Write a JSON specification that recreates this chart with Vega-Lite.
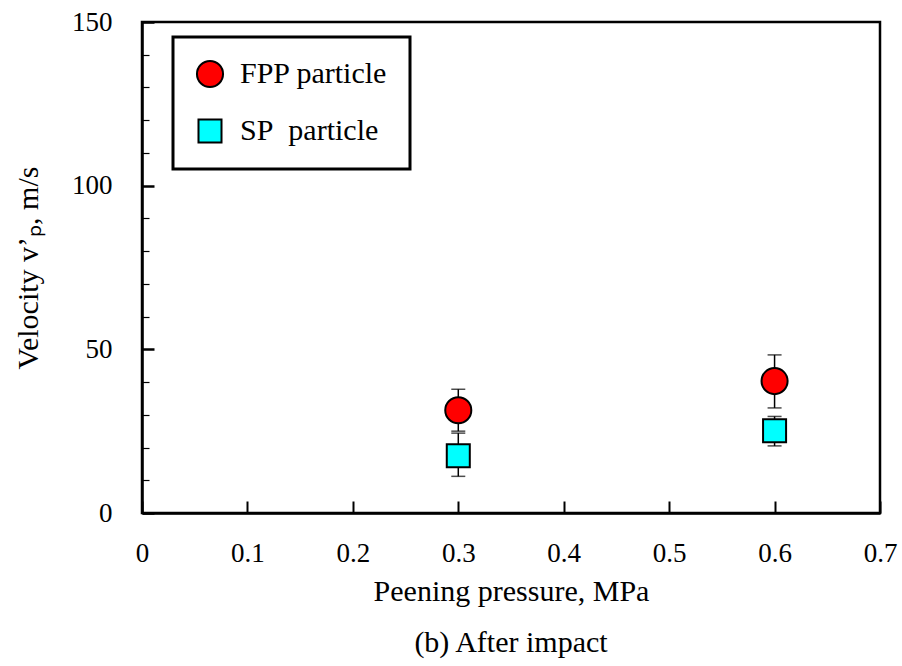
{
  "$schema": "https://vega.github.io/schema/vega-lite/v6.json",
  "width": 738,
  "height": 491,
  "autosize": "none",
  "padding": {"left": 142, "top": 22, "right": 22, "bottom": 153},
  "background": "white",
  "config": {
    "font": "Liberation Serif",
    "view": {"stroke": "black", "strokeWidth": 2.5},
    "axis": {
      "domainColor": "black", "domainWidth": 2.5,
      "tickColor": "black",
      "labelColor": "black", "titleColor": "black",
      "labelFont": "Liberation Serif", "titleFont": "Liberation Serif",
      "labelFontSize": 27, "titleFontSize": 30, "titleFontWeight": "normal",
      "grid": false
    },
    "legend": {
      "strokeColor": "black",
      "strokeWidth": 3,
      "fillColor": "white"
    }
  },
  "title": {
    "text": "(b) After impact",
    "orient": "bottom",
    "anchor": "middle",
    "font": "Liberation Serif",
    "fontSize": 30,
    "fontWeight": "normal",
    "color": "black",
    "offset": 22
  },
  "data": {
    "values": [
      {"pressure": 0.3, "particle": "FPP particle", "v": 31.4, "lo": 25.0, "hi": 37.8},
      {"pressure": 0.3, "particle": "SP particle", "v": 17.5, "lo": 11.2, "hi": 24.4},
      {"pressure": 0.6, "particle": "FPP particle", "v": 40.3, "lo": 32.1, "hi": 48.3},
      {"pressure": 0.6, "particle": "SP particle", "v": 25.1, "lo": 20.5, "hi": 29.5}
    ]
  },
  "layer": [
    {
      "mark": {"type": "rule", "color": "black", "strokeWidth": 1.5},
      "encoding": {
        "x": {"field": "pressure", "type": "quantitative",
          "scale": {"domain": [0, 0.7], "nice": false},
          "axis": {
            "title": "Peening pressure, MPa",
            "values": [0, 0.1, 0.2, 0.3, 0.4, 0.5, 0.6, 0.7],
            "labelExpr": "datum.value == 0 ? '0' : format(datum.value, '.1f')",
            "labelFlush": false,
            "labelOverlap": false,
            "tickSize": -12, "tickWidth": 2,
            "labelPadding": 39,
            "titlePadding": 10
          }},
        "y": {"field": "lo", "type": "quantitative",
          "scale": {"domain": [0, 150], "nice": false},
          "axis": {
            "title": "Velocity v’ₚ, m/s",
            "values": [0, 10, 20, 30, 40, 50, 60, 70, 80, 90, 100, 110, 120, 130, 140, 150],
            "labelExpr": "datum.value % 50 == 0 ? datum.label : ''",
            "labelFlush": false,
            "labelOverlap": false,
            "tickSize": {"condition": {"test": "datum.value % 50 == 0", "value": -12}, "value": -7},
            "tickWidth": {"condition": {"test": "datum.value % 50 == 0", "value": 2.5}, "value": 1.2},
            "labelPadding": 42,
            "titlePadding": 28
          }},
        "y2": {"field": "hi"}
      }
    },
    {
      "mark": {"type": "tick", "color": "black", "orient": "horizontal", "size": 14, "thickness": 1.5},
      "encoding": {
        "x": {"field": "pressure", "type": "quantitative", "axis": {
            "title": "Peening pressure, MPa",
            "values": [0, 0.1, 0.2, 0.3, 0.4, 0.5, 0.6, 0.7],
            "labelExpr": "datum.value == 0 ? '0' : format(datum.value, '.1f')",
            "labelFlush": false,
            "labelOverlap": false,
            "tickSize": -12, "tickWidth": 2,
            "labelPadding": 39,
            "titlePadding": 10
          }},
        "y": {"field": "lo", "type": "quantitative", "axis": {
            "title": "Velocity v’ₚ, m/s",
            "values": [0, 10, 20, 30, 40, 50, 60, 70, 80, 90, 100, 110, 120, 130, 140, 150],
            "labelExpr": "datum.value % 50 == 0 ? datum.label : ''",
            "labelFlush": false,
            "labelOverlap": false,
            "tickSize": {"condition": {"test": "datum.value % 50 == 0", "value": -12}, "value": -7},
            "tickWidth": {"condition": {"test": "datum.value % 50 == 0", "value": 2.5}, "value": 1.2},
            "labelPadding": 42,
            "titlePadding": 28
          }}
      }
    },
    {
      "mark": {"type": "tick", "color": "black", "orient": "horizontal", "size": 14, "thickness": 1.5},
      "encoding": {
        "x": {"field": "pressure", "type": "quantitative", "axis": {
            "title": "Peening pressure, MPa",
            "values": [0, 0.1, 0.2, 0.3, 0.4, 0.5, 0.6, 0.7],
            "labelExpr": "datum.value == 0 ? '0' : format(datum.value, '.1f')",
            "labelFlush": false,
            "labelOverlap": false,
            "tickSize": -12, "tickWidth": 2,
            "labelPadding": 39,
            "titlePadding": 10
          }},
        "y": {"field": "hi", "type": "quantitative", "axis": {
            "title": "Velocity v’ₚ, m/s",
            "values": [0, 10, 20, 30, 40, 50, 60, 70, 80, 90, 100, 110, 120, 130, 140, 150],
            "labelExpr": "datum.value % 50 == 0 ? datum.label : ''",
            "labelFlush": false,
            "labelOverlap": false,
            "tickSize": {"condition": {"test": "datum.value % 50 == 0", "value": -12}, "value": -7},
            "tickWidth": {"condition": {"test": "datum.value % 50 == 0", "value": 2.5}, "value": 1.2},
            "labelPadding": 42,
            "titlePadding": 28
          }}
      }
    },
    {
      "mark": {"type": "point", "filled": true, "opacity": 1, "stroke": "black", "strokeWidth": 2},
      "encoding": {
        "x": {"field": "pressure", "type": "quantitative", "axis": {
            "title": "Peening pressure, MPa",
            "values": [0, 0.1, 0.2, 0.3, 0.4, 0.5, 0.6, 0.7],
            "labelExpr": "datum.value == 0 ? '0' : format(datum.value, '.1f')",
            "labelFlush": false,
            "labelOverlap": false,
            "tickSize": -12, "tickWidth": 2,
            "labelPadding": 39,
            "titlePadding": 10
          }},
        "y": {"field": "v", "type": "quantitative", "axis": {
            "title": "Velocity v’ₚ, m/s",
            "values": [0, 10, 20, 30, 40, 50, 60, 70, 80, 90, 100, 110, 120, 130, 140, 150],
            "labelExpr": "datum.value % 50 == 0 ? datum.label : ''",
            "labelFlush": false,
            "labelOverlap": false,
            "tickSize": {"condition": {"test": "datum.value % 50 == 0", "value": -12}, "value": -7},
            "tickWidth": {"condition": {"test": "datum.value % 50 == 0", "value": 2.5}, "value": 1.2},
            "labelPadding": 42,
            "titlePadding": 28
          }},
        "shape": {
          "field": "particle", "type": "nominal",
          "scale": {"domain": ["FPP particle", "SP particle"], "range": ["circle", "square"]},
          "legend": {
            "title": null,
            "orient": "none",
            "legendX": 31,
            "legendY": 15,
            "padding": 22,
            "rowPadding": 23,
            "labelFont": "Liberation Serif",
            "labelFontSize": 30,
            "labelColor": "black",
            "labelOffset": 15,
            "labelLimit": 400,
            "symbolSize": 620,
            "symbolStrokeColor": "black",
            "symbolStrokeWidth": 2,
            "labelExpr": "datum.label == 'SP particle' ? '\u00a0SP\u00a0\u00a0particle' : datum.label"
          }
        },
        "color": {
          "field": "particle", "type": "nominal",
          "scale": {"domain": ["FPP particle", "SP particle"], "range": ["#ff0000", "#00ffff"]},
          "legend": {
            "title": null,
            "orient": "none",
            "legendX": 31,
            "legendY": 15,
            "padding": 22,
            "rowPadding": 23,
            "labelFont": "Liberation Serif",
            "labelFontSize": 30,
            "labelColor": "black",
            "labelOffset": 15,
            "labelLimit": 400,
            "symbolSize": 620,
            "symbolStrokeColor": "black",
            "symbolStrokeWidth": 2,
            "labelExpr": "datum.label == 'SP particle' ? '\u00a0SP\u00a0\u00a0particle' : datum.label"
          }
        },
        "size": {
          "field": "particle", "type": "nominal",
          "scale": {"domain": ["FPP particle", "SP particle"], "range": [680, 530]},
          "legend": null
        }
      }
    }
  ]
}
